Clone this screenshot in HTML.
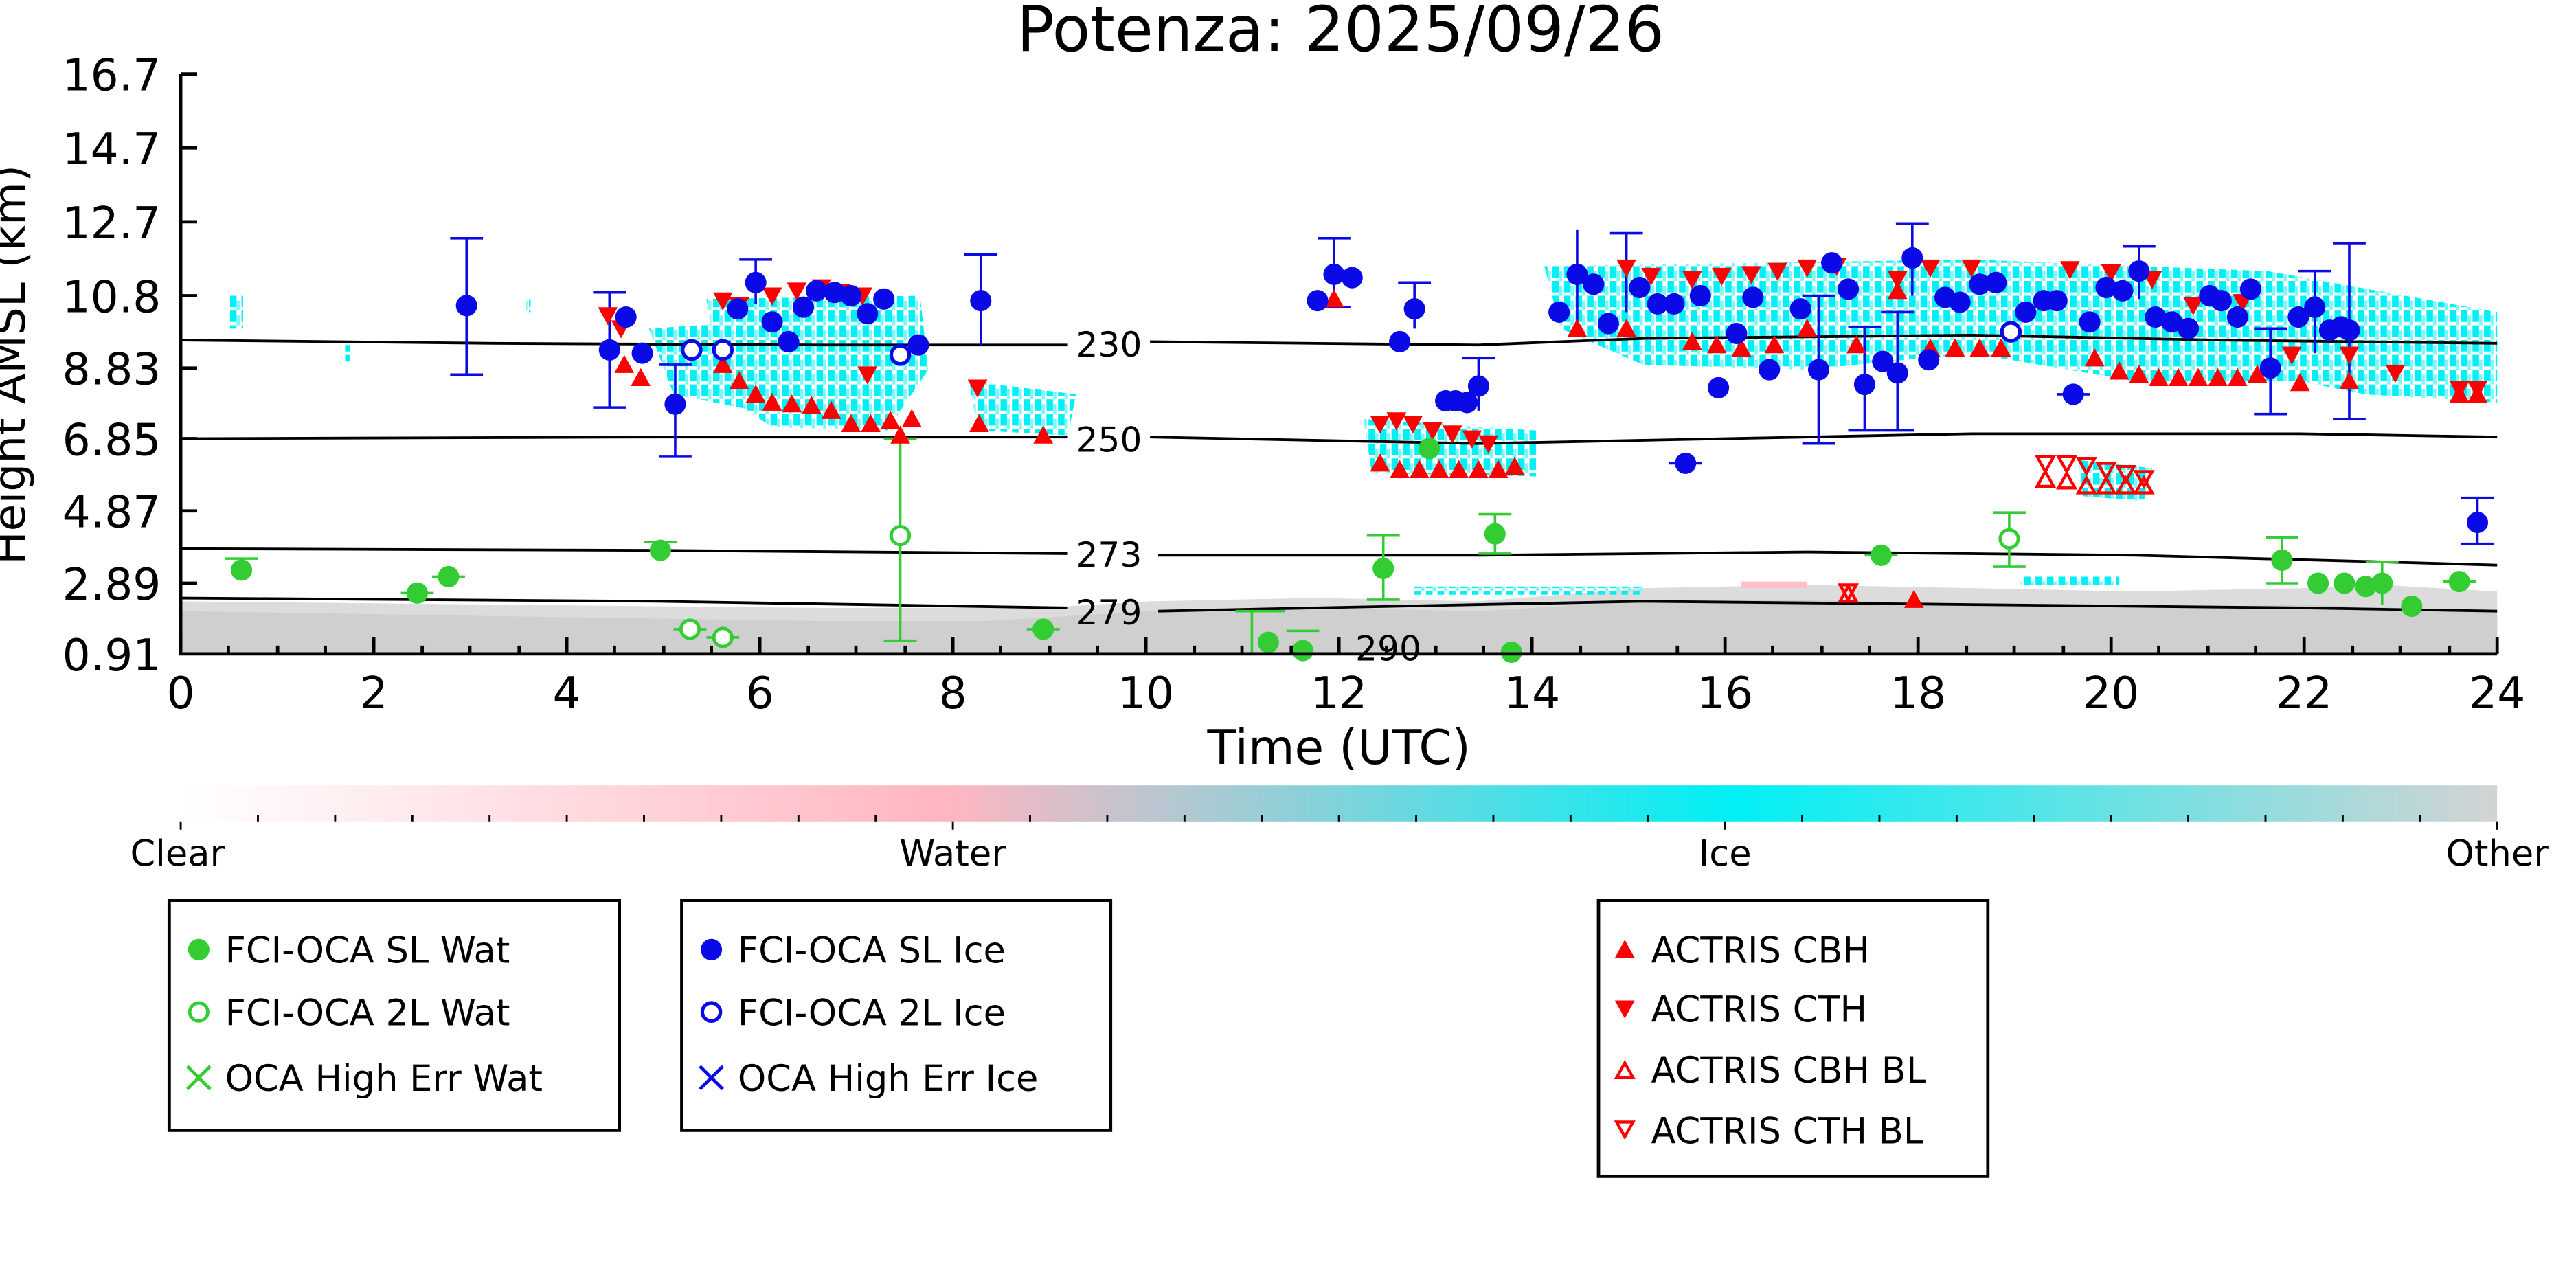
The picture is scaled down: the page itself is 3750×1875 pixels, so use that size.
<!DOCTYPE html>
<html><head><meta charset="utf-8"><style>html,body{margin:0;padding:0;background:#fff}svg{display:block}text{font-family:"DejaVu Sans","Liberation Sans",sans-serif}</style></head>
<body>
<svg width="3750" height="1875" viewBox="0 0 1568 784" xmlns="http://www.w3.org/2000/svg">
<defs>
<linearGradient id="cb" x1="0" x2="1" y1="0" y2="0">
<stop offset="0" stop-color="#ffffff"/><stop offset="0.33" stop-color="#ffb6c1"/><stop offset="0.67" stop-color="#00f0f5"/><stop offset="1" stop-color="#d3d3d3"/>
</linearGradient>
<pattern id="st" width="7" height="9" patternUnits="userSpaceOnUse"><rect x="0" y="0" width="4" height="7" fill="#00f0f5"/><rect x="4" y="3" width="2" height="6" fill="#7ff7fa"/></pattern>
<g id="bd"><circle r="6.5" fill="#0a0ae6"/></g>
<g id="bo"><circle r="5.5" fill="#fff" stroke="#0a0ae6" stroke-width="2.2"/></g>
<g id="gd"><circle r="6.5" fill="#33cc33"/></g>
<g id="go"><circle r="5.5" fill="#fff" stroke="#33cc33" stroke-width="2"/></g>
<g id="ru"><path d="M-6,5 L6,5 L0,-6 Z" fill="#f00"/></g>
<g id="rd"><path d="M-6,-5 L6,-5 L0,6 Z" fill="#f00"/></g>
<g id="rou"><path d="M-5,4 L5,4 L0,-5 Z" fill="none" stroke="#f00" stroke-width="1.8"/></g>
<g id="rod"><path d="M-5,-4 L5,-4 L0,5 Z" fill="none" stroke="#f00" stroke-width="1.8"/></g>
</defs>
<text x="816" y="31" font-size="38" text-anchor="middle">Potenza: 2025/09/26</text>
<path d="M110,366 L300,368 L500,370 L560,370 L650,369 L700,366 L800,364 L900,366 L1000,358 L1100,356 L1200,358 L1300,360 L1400,358 L1450,356 L1520,360 L1520,398 L110,398 Z" fill="#dcdcdc"/>
<path d="M110,372 L300,375 L500,378 L600,378 L700,372 L800,370 L900,372 L1000,366 L1100,365 L1200,368 L1300,370 L1400,368 L1520,372 L1520,398 L110,398 Z" fill="#cfcfcf"/>
<rect x="1060" y="354" width="40" height="4" fill="#ffc0cb"/>
<g fill="url(#st)">
<rect x="140" y="180" width="8" height="20"/>
<rect x="210" y="210" width="3" height="10"/>
<rect x="320" y="182" width="3" height="8"/>
<path d="M395,200 L470,195 L460,250 L410,240 Z"/>
<path d="M430,182 L560,180 L565,225 L540,262 L470,260 L440,240 Z"/>
<path d="M590,232 L655,240 L650,265 L595,262 Z"/>
<path d="M830,255 L935,262 L935,290 L835,288 Z"/>
<path d="M940,162 L1200,158 L1380,165 L1520,190 L1520,245 L1440,240 L1400,232 L1300,232 L1200,215 L1100,225 L1000,222 L950,200 Z"/>
<path d="M1265,280 L1310,285 L1305,305 L1268,302 Z"/>
<rect x="860" y="357" width="140" height="5"/>
<rect x="1230" y="351" width="60" height="5"/>
</g>
<g fill="none" stroke="#000" stroke-width="1.6">
<path d="M110,207 L300,209 L500,210 L650,210"/><path d="M700,208 L900,210 L1000,206 L1200,204 L1350,207 L1520,209"/>
<path d="M110,267 L400,266 L650,266"/><path d="M700,266 L900,270 L1000,268 L1200,264 L1400,264 L1520,266"/>
<path d="M110,334 L400,335 L650,337"/><path d="M705,338 L900,338 L1100,336 L1300,338 L1450,342 L1520,344"/>
<path d="M110,364 L400,366 L650,370"/><path d="M705,372 L800,370 L1000,366 L1200,368 L1400,370 L1520,372"/>
</g>
<g font-size="21"><text x="655" y="217">230</text><text x="655" y="275">250</text><text x="655" y="345">273</text><text x="655" y="380">279</text><text x="825" y="402">290</text></g>
<g stroke="#0a0ae6" stroke-width="1.5" fill="none">
<path d="M284,145V228M274,145H294M274,228H294"/><path d="M371,178V248M361,178H381M361,248H381"/>
<path d="M411,222V278M401,222H421M401,278H421"/><path d="M460,158V185M450,158H470"/>
<path d="M597,155V210M587,155H607"/><path d="M812,145V187M802,145H822M802,187H822"/>
<path d="M861,172V200M851,172H871"/><path d="M900,218V250M890,218H910"/>
<path d="M960,140V200"/><path d="M990,142V190M980,142H1000"/>
<path d="M1107,180V270M1097,180H1117M1097,270H1117"/><path d="M1135,199V262M1125,199H1145M1125,262H1145"/>
<path d="M1155,190V262M1145,190H1165M1145,262H1165"/><path d="M1164,136V180M1154,136H1174"/>
<path d="M1302,150V182M1292,150H1312"/><path d="M1382,200V252M1372,200H1392M1372,252H1392"/>
<path d="M1409,165V215M1399,165H1419"/><path d="M1430,148V255M1420,148H1440M1420,255H1440"/>
<path d="M1508,303V331M1498,303H1518M1498,331H1518"/><path d="M1016,282H1036"/><path d="M1252,240H1272"/>
</g>
<g stroke="#33cc33" stroke-width="1.5" fill="none">
<path d="M548,267V390M538,267H558M538,390H558"/><path d="M1223,312V345M1213,312H1233M1213,345H1233"/>
<path d="M842,326V365M832,326H852M832,365H852"/><path d="M910,313V337M900,313H920M900,337H920"/>
<path d="M1389,327V355M1379,327H1399M1379,355H1399"/><path d="M1450,342V368M1440,342H1460"/>
<path d="M137,340H157M392,330H412M244,361H264M263,351H283M410,383H430M430,388H450M762,372V398M752,372H782M783,384H803M1135,338H1155M1487,354H1507M625,383H645"/>
</g>
<g>
<use href="#rd" x="370" y="192"/><use href="#rd" x="378" y="200"/><use href="#ru" x="380" y="222"/><use href="#ru" x="390" y="230"/>
<use href="#rd" x="440" y="183"/><use href="#rd" x="450" y="186"/><use href="#rd" x="470" y="180"/><use href="#rd" x="485" y="177"/><use href="#rd" x="500" y="175"/><use href="#rd" x="512" y="178"/><use href="#rd" x="525" y="180"/>
<use href="#ru" x="440" y="222"/><use href="#ru" x="450" y="232"/><use href="#ru" x="460" y="240"/><use href="#ru" x="470" y="245"/><use href="#ru" x="482" y="246"/><use href="#ru" x="494" y="247"/><use href="#ru" x="506" y="250"/><use href="#ru" x="518" y="258"/><use href="#ru" x="530" y="258"/><use href="#ru" x="542" y="256"/><use href="#ru" x="555" y="255"/>
<use href="#rd" x="528" y="228"/><use href="#ru" x="548" y="265"/><use href="#rd" x="595" y="236"/><use href="#ru" x="596" y="258"/><use href="#ru" x="635" y="265"/>
<use href="#ru" x="812" y="182"/>
<use href="#rd" x="840" y="258"/><use href="#rd" x="850" y="256"/><use href="#rd" x="860" y="258"/><use href="#rd" x="872" y="262"/><use href="#rd" x="884" y="264"/><use href="#rd" x="896" y="267"/><use href="#rd" x="906" y="270"/>
<use href="#ru" x="840" y="282"/><use href="#ru" x="852" y="286"/><use href="#ru" x="864" y="286"/><use href="#ru" x="876" y="286"/><use href="#ru" x="888" y="286"/><use href="#ru" x="900" y="286"/><use href="#ru" x="912" y="286"/><use href="#ru" x="922" y="284"/>
<use href="#rd" x="990" y="163"/><use href="#rd" x="1005" y="168"/><use href="#rd" x="1030" y="170"/><use href="#rd" x="1048" y="168"/><use href="#rd" x="1066" y="167"/><use href="#rd" x="1082" y="165"/><use href="#rd" x="1100" y="163"/><use href="#rd" x="1118" y="162"/><use href="#rd" x="1155" y="170"/><use href="#rd" x="1175" y="163"/><use href="#rd" x="1200" y="163"/><use href="#rd" x="1260" y="164"/><use href="#rd" x="1285" y="166"/><use href="#rd" x="1310" y="170"/><use href="#rd" x="1335" y="186"/><use href="#rd" x="1365" y="184"/><use href="#rd" x="1395" y="216"/><use href="#rd" x="1430" y="216"/><use href="#rd" x="1458" y="227"/><use href="#rd" x="1497" y="237"/><use href="#rd" x="1508" y="237"/>
<use href="#ru" x="960" y="200"/><use href="#ru" x="990" y="200"/><use href="#ru" x="1030" y="208"/><use href="#ru" x="1045" y="210"/><use href="#ru" x="1060" y="212"/><use href="#ru" x="1080" y="210"/><use href="#ru" x="1100" y="200"/><use href="#ru" x="1130" y="210"/><use href="#ru" x="1155" y="177"/><use href="#ru" x="1175" y="212"/><use href="#ru" x="1190" y="212"/><use href="#ru" x="1205" y="212"/><use href="#ru" x="1218" y="212"/>
<use href="#ru" x="1275" y="218"/><use href="#ru" x="1290" y="226"/><use href="#ru" x="1302" y="228"/><use href="#ru" x="1314" y="230"/><use href="#ru" x="1326" y="230"/><use href="#ru" x="1338" y="230"/><use href="#ru" x="1350" y="230"/><use href="#ru" x="1362" y="230"/><use href="#ru" x="1374" y="228"/><use href="#ru" x="1400" y="233"/><use href="#ru" x="1430" y="232"/><use href="#ru" x="1497" y="240"/><use href="#ru" x="1508" y="240"/>
<use href="#ru" x="1165" y="365"/><use href="#rou" x="1125" y="362"/><use href="#rod" x="1125" y="360"/>
<use href="#rod" x="1245" y="282"/><use href="#rod" x="1258" y="282"/><use href="#rod" x="1270" y="283"/><use href="#rod" x="1282" y="286"/><use href="#rod" x="1294" y="288"/><use href="#rod" x="1305" y="291"/>
<use href="#rou" x="1245" y="292"/><use href="#rou" x="1258" y="293"/><use href="#rou" x="1270" y="296"/><use href="#rou" x="1282" y="296"/><use href="#rou" x="1294" y="296"/><use href="#rou" x="1305" y="296"/>
</g>
<g>
<use href="#gd" x="147" y="347"/><use href="#gd" x="254" y="361"/><use href="#gd" x="273" y="351"/><use href="#gd" x="402" y="335"/><use href="#gd" x="842" y="346"/><use href="#gd" x="910" y="325"/><use href="#gd" x="1145" y="338"/><use href="#gd" x="1389" y="341"/><use href="#gd" x="1411" y="355"/><use href="#gd" x="1427" y="355"/><use href="#gd" x="1440" y="357"/><use href="#gd" x="1450" y="355"/><use href="#gd" x="1468" y="369"/><use href="#gd" x="1497" y="354"/><use href="#gd" x="635" y="383"/><use href="#gd" x="772" y="391"/><use href="#gd" x="793" y="396"/><use href="#gd" x="920" y="397"/><use href="#gd" x="870" y="273"/>
<use href="#go" x="548" y="326"/><use href="#go" x="1223" y="328"/><use href="#go" x="420" y="383"/><use href="#go" x="440" y="388"/>
</g>
<g>
<use href="#bd" x="284" y="186"/><use href="#bd" x="371" y="213"/><use href="#bd" x="381" y="193"/><use href="#bd" x="391" y="215"/><use href="#bd" x="411" y="246"/><use href="#bd" x="449" y="188"/><use href="#bd" x="460" y="172"/><use href="#bd" x="470" y="196"/><use href="#bd" x="480" y="208"/><use href="#bd" x="489" y="187"/><use href="#bd" x="497" y="177"/><use href="#bd" x="508" y="178"/><use href="#bd" x="518" y="180"/><use href="#bd" x="528" y="191"/><use href="#bd" x="538" y="182"/><use href="#bd" x="559" y="210"/><use href="#bd" x="597" y="183"/>
<use href="#bd" x="802" y="183"/><use href="#bd" x="812" y="167"/><use href="#bd" x="823" y="169"/><use href="#bd" x="852" y="208"/><use href="#bd" x="861" y="188"/><use href="#bd" x="880" y="244"/><use href="#bd" x="886" y="244"/><use href="#bd" x="893" y="245"/><use href="#bd" x="900" y="235"/>
<use href="#bd" x="949" y="190"/><use href="#bd" x="979" y="197"/><use href="#bd" x="960" y="167"/><use href="#bd" x="970" y="173"/><use href="#bd" x="998" y="175"/><use href="#bd" x="1009" y="185"/><use href="#bd" x="1019" y="185"/><use href="#bd" x="1035" y="180"/><use href="#bd" x="1046" y="236"/><use href="#bd" x="1057" y="203"/><use href="#bd" x="1067" y="181"/><use href="#bd" x="1077" y="225"/><use href="#bd" x="1096" y="188"/><use href="#bd" x="1107" y="225"/><use href="#bd" x="1115" y="160"/><use href="#bd" x="1125" y="176"/><use href="#bd" x="1135" y="234"/><use href="#bd" x="1146" y="220"/><use href="#bd" x="1155" y="227"/><use href="#bd" x="1164" y="157"/><use href="#bd" x="1174" y="219"/><use href="#bd" x="1184" y="181"/><use href="#bd" x="1193" y="184"/><use href="#bd" x="1205" y="173"/><use href="#bd" x="1215" y="172"/><use href="#bd" x="1233" y="190"/><use href="#bd" x="1244" y="183"/><use href="#bd" x="1252" y="183"/><use href="#bd" x="1262" y="240"/><use href="#bd" x="1272" y="196"/><use href="#bd" x="1282" y="175"/><use href="#bd" x="1292" y="177"/><use href="#bd" x="1302" y="165"/><use href="#bd" x="1312" y="193"/><use href="#bd" x="1322" y="196"/><use href="#bd" x="1332" y="200"/><use href="#bd" x="1345" y="180"/><use href="#bd" x="1352" y="183"/><use href="#bd" x="1362" y="193"/><use href="#bd" x="1370" y="176"/><use href="#bd" x="1382" y="224"/><use href="#bd" x="1399" y="193"/><use href="#bd" x="1409" y="187"/><use href="#bd" x="1418" y="201"/><use href="#bd" x="1425" y="199"/><use href="#bd" x="1430" y="201"/><use href="#bd" x="1508" y="318"/><use href="#bd" x="1026" y="282"/>
<use href="#bo" x="421" y="213"/><use href="#bo" x="440" y="213"/><use href="#bo" x="548" y="216"/><use href="#bo" x="1224" y="202"/>
</g>
<g stroke="#000" stroke-width="2" fill="none">
<path d="M110,45V398H1520"/>
<path d="M110,45H120M110,90H120M110,135H120M110,180H120M110,224H120M110,267H120M110,311H120M110,355H120"/>
<path d="M110,398V388M227.5,398V388M345,398V388M462.5,398V388M580,398V388M697.5,398V388M815,398V388M932.5,398V388M1050,398V388M1167.5,398V388M1285,398V388M1402.5,398V388M1520,398V388"/>
<path d="M139,398V393M169,398V393M198,398V393M257,398V393M286,398V393M316,398V393M374,398V393M404,398V393M433,398V393M492,398V393M521,398V393M551,398V393M609,398V393M639,398V393M668,398V393M727,398V393M756,398V393M786,398V393M844,398V393M874,398V393M903,398V393M962,398V393M991,398V393M1021,398V393M1079,398V393M1109,398V393M1138,398V393M1197,398V393M1226,398V393M1256,398V393M1314,398V393M1344,398V393M1373,398V393M1432,398V393M1461,398V393M1491,398V393"/>
</g>
<g font-size="27" text-anchor="end">
<text x="98" y="55">16.7</text><text x="98" y="100">14.7</text><text x="98" y="145">12.7</text><text x="98" y="190">10.8</text><text x="98" y="234">8.83</text><text x="98" y="277">6.85</text><text x="98" y="321">4.87</text><text x="98" y="365">2.89</text><text x="98" y="408">0.91</text>
</g>
<g font-size="27" text-anchor="middle">
<text x="110" y="431">0</text><text x="227.5" y="431">2</text><text x="345" y="431">4</text><text x="462.5" y="431">6</text><text x="580" y="431">8</text><text x="697.5" y="431">10</text><text x="815" y="431">12</text><text x="932.5" y="431">14</text><text x="1050" y="431">16</text><text x="1167.5" y="431">18</text><text x="1285" y="431">20</text><text x="1402.5" y="431">22</text><text x="1520" y="431">24</text>
<text x="815" y="465" font-size="29">Time (UTC)</text>
</g>
<text transform="translate(15,222) rotate(-90)" font-size="27" text-anchor="middle">Height AMSL (km)</text>
<rect x="110" y="478" width="1410" height="22" fill="url(#cb)"/>
<g stroke="#000" stroke-width="1.2">
<path d="M110,500V505M580,500V505M1050,500V505M1520,500V505"/>
<path d="M157,500V496M204,500V496M251,500V496M298,500V496M345,500V496M392,500V496M439,500V496M486,500V496M533,500V496M627,500V496M674,500V496M721,500V496M768,500V496M815,500V496M862,500V496M909,500V496M956,500V496M1003,500V496M1097,500V496M1144,500V496M1191,500V496M1238,500V496M1285,500V496M1332,500V496M1379,500V496M1426,500V496M1473,500V496"/>
</g>
<g font-size="22" text-anchor="middle"><text x="108" y="527">Clear</text><text x="580" y="527">Water</text><text x="1050" y="527">Ice</text><text x="1520" y="527">Other</text></g>
<g fill="none" stroke="#000" stroke-width="2"><rect x="103" y="548" width="274" height="140"/><rect x="415" y="548" width="261" height="140"/><rect x="973" y="548" width="237" height="168"/></g>
<g font-size="22">
<use href="#gd" x="121" y="578"/><text x="137" y="586">FCI-OCA SL Wat</text>
<use href="#go" x="121" y="616"/><text x="137" y="624">FCI-OCA 2L Wat</text>
<path d="M114,649L128,663M128,649L114,663" stroke="#33cc33" stroke-width="2"/><text x="137" y="664">OCA High Err Wat</text>
<use href="#bd" x="433" y="578"/><text x="449" y="586">FCI-OCA SL Ice</text>
<use href="#bo" x="433" y="616"/><text x="449" y="624">FCI-OCA 2L Ice</text>
<path d="M426,649L440,663M440,649L426,663" stroke="#0a0ae6" stroke-width="2"/><text x="449" y="664">OCA High Err Ice</text>
<use href="#ru" x="989" y="578"/><text x="1005" y="586">ACTRIS CBH</text>
<use href="#rd" x="989" y="614"/><text x="1005" y="622">ACTRIS CTH</text>
<use href="#rou" x="989" y="652"/><text x="1005" y="659">ACTRIS CBH BL</text>
<use href="#rod" x="989" y="687"/><text x="1005" y="696">ACTRIS CTH BL</text>
</g>
</svg>
</body></html>
